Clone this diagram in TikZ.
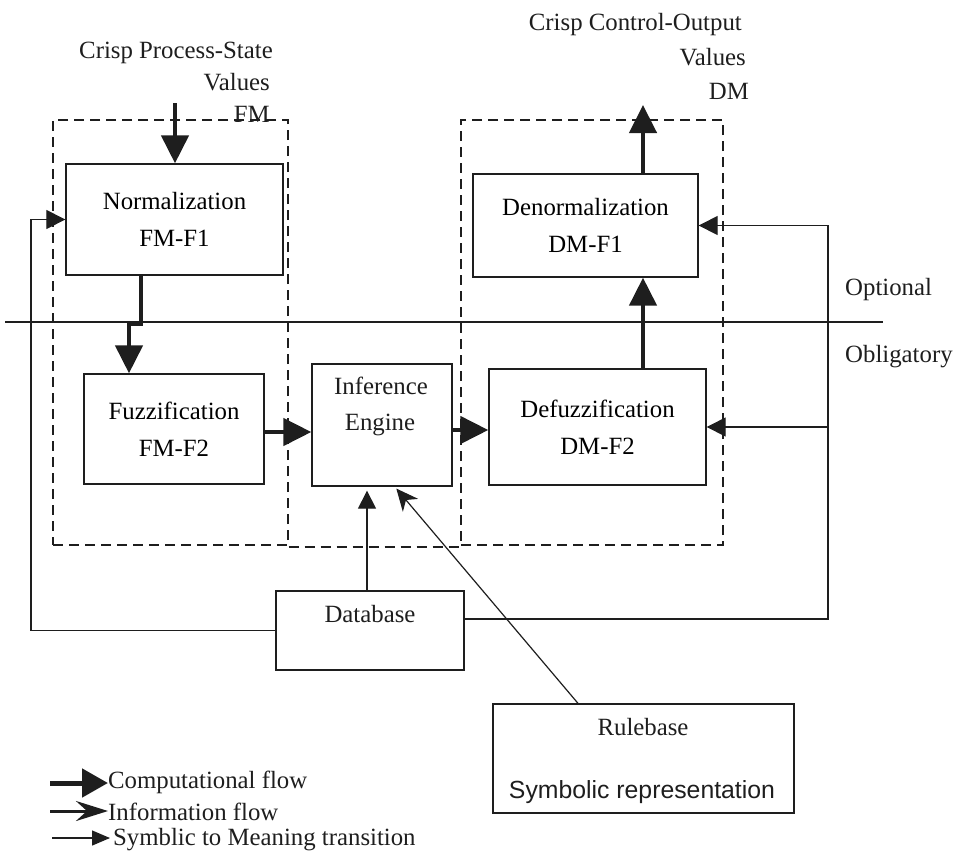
\documentclass[tikz,border=0pt]{standalone}
\usepackage{fontspec}
\setmainfont{Liberation Serif}
\newfontfamily\sansf{Liberation Sans}
\usetikzlibrary{arrows.meta}
\newcommand\fsz{\fontsize{24.8}{37}\selectfont}
\definecolor{ink}{HTML}{1E1E1E}
\begin{document}
\begin{tikzpicture}[x=1pt,y=-1pt,
  box/.style={draw=ink,line width=1.3pt,rectangle,inner sep=0pt,font=\fsz,align=center},
  grp/.style={draw=ink,line width=1.4pt,dash pattern=on 10pt off 6pt,rectangle,inner sep=0pt},
  lbl/.style={font=\fsz,inner sep=0pt,text=ink},
  comp/.style={draw=ink,line width=4.5pt,line join=miter,-{Triangle[length=28pt,width=27pt]}},
  fb/.style={draw=ink,line width=1.2pt,-{Triangle[length=19pt,width=19pt]}},
  infoarr/.style={draw=ink,line width=1.2pt,-{Stealth[length=22pt,width=20pt,inset=7pt]}},
  symb/.style={draw=ink,line width=1.2pt,-{Triangle[length=18pt,width=18pt]}}]
\useasboundingbox (0,0) rectangle (957,852);

% group boxes
\node[grp,minimum width=235pt,minimum height=425pt] (fmbox) at (170.5,332.5) {};
\node[grp,minimum width=262pt,minimum height=425pt] (dmbox) at (592,332.5) {};
\draw[ink,line width=1.6pt,dash pattern=on 10pt off 6pt] ([yshift=-1.5pt]fmbox.south east) -- ([yshift=-1.5pt]dmbox.south west);

% separator line
\coordinate (hl) at (5,322);
\coordinate (hr) at (883,322);
\draw[ink,line width=2.5pt] (hl) -- (hr);

% boxes
\node[box,minimum width=217pt,minimum height=111pt] (norm) at (174.5,219.5) {Normalization\\FM-F1};
\node[box,minimum width=180pt,minimum height=110pt] (fuzz) at (174,429) {Fuzzification\\FM-F2};
\node[box,minimum width=140pt,minimum height=122pt] (inf) at (382,425) {};
\node[box,minimum width=217pt,minimum height=116pt] (defuzz) at (597.5,427) {Defuzzification\\DM-F2};
\node[box,minimum width=225pt,minimum height=103pt] (denorm) at (585.5,225.5) {Denormalization\\DM-F1};
\node[box,minimum width=188pt,minimum height=79pt] (db) at (370,630.5) {};
\node[box,minimum width=301pt,minimum height=109pt] (rule) at (643.5,758.5) {};

% texts in boxes
\node[lbl,anchor=base] (inf1) at (381,394) {Inference};
\node[lbl,anchor=base] (inf2) at (380,430) {Engine};
\node[lbl,anchor=base] (dbt) at (370,622) {Database};
\node[lbl,anchor=base] (rt1) at (643,735) {Rulebase};
\node[lbl,anchor=base,font=\sansf\fsz] (rt2) at (642,798) {Symbolic representation};

% outside labels
\node[lbl,anchor=base east] (in1) at (273,58) {Crisp Process-State};
\node[lbl,anchor=base east] (in2) at (270,90) {Values};
\node[lbl,anchor=base east] (fmlab) at (270,122) {FM};
\node[lbl,anchor=base east] (out1) at (742,30) {Crisp Control-Output};
\node[lbl,anchor=base east] (out2) at (746,65) {Values};
\node[lbl,anchor=base east] (dmlab) at (749,99) {DM};
\node[lbl,anchor=base west] (opt) at (845,295) {Optional};
\node[lbl,anchor=base west] (obl) at (845,362) {Obligatory};

% computational flow
\coordinate (in) at (175,103);
\draw[comp] (in) -- (in |- norm.north);
\coordinate (j1) at (141,324);
\coordinate (j2) at (129,324);
\draw[comp] (j1 |- norm.south) -- (j1) -- (j2) -- (j2 |- fuzz.north);
\coordinate (fy) at (0,432);
\draw[comp] (fuzz.east |- fy) -- (inf.west |- fy);
\coordinate (dy) at (0,430);
\draw[comp] (inf.east |- dy) -- (defuzz.west |- dy);
\coordinate (xo) at (643,0);
\draw[comp] (xo |- defuzz.north) -- (xo |- denorm.south);
\coordinate (out) at (643,105);
\draw[comp] (xo |- denorm.north) -- (out);

% database and rulebase to inference
\coordinate (dbx) at (367,0);
\draw[symb,shorten >=4pt] (dbx |- db.north) -- (dbx |- inf.south);
\coordinate (rx) at (578,0);
\coordinate (rtip) at (395,487);
\draw[infoarr,shorten >=2pt] (rule.north -| rx) -- (rtip);

% feedback lines
\coordinate (lx) at (31,0);
\draw[fb] (db.west) -| (lx |- norm.west) -- (norm.west);
\coordinate (rxx) at (828,0);
\draw[fb] ([yshift=11.5pt]db.east) -| (rxx |- denorm.east) -- (denorm.east);
\draw[fb] (rxx |- defuzz.east) -- (defuzz.east);

% legend
\coordinate (l1s) at (50,783);
\coordinate (l1e) at (108,783);
\draw[ink,line width=5pt,-{Triangle[length=26pt,width=28pt]}] (l1s) -- (l1e);
\node[lbl,anchor=base west] (l1t) at (108,788) {Computational flow};
\coordinate (l2s) at (50,811);
\coordinate (l2e) at (108,811);
\draw[ink,line width=3pt,-{Stealth[length=32pt,width=20pt,inset=11pt]}] (l2s) -- (l2e);
\node[lbl,anchor=base west] (l2t) at (108,820) {Information flow};
\coordinate (l3s) at (52,838);
\coordinate (l3e) at (110,838);
\draw[ink,line width=1.2pt,-{Triangle[length=18pt,width=15pt]}] (l3s) -- (l3e);
\node[lbl,anchor=base west] (l3t) at (113,845) {Symblic to Meaning transition};
\end{tikzpicture}
\end{document}
